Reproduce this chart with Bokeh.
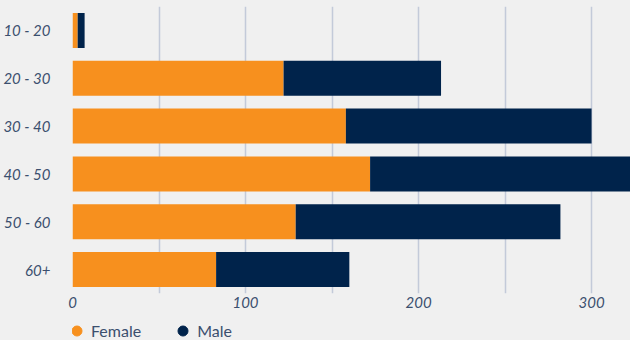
from bokeh.plotting import figure
from bokeh.layouts import column
from bokeh.models import (ColumnDataSource, FactorRange, Range1d, FixedTicker,
                          Legend, LegendItem)
from bokeh.embed import file_html
from bokeh.resources import INLINE

categories = ["10 - 20", "20 - 30", "30 - 40", "40 - 50", "50 - 60", "60+"]
female = [3, 122, 158, 172, 129, 83]
male = [4, 91, 142, 165, 153, 77]
series = ["Female", "Male"]
x_ticks = [0, 100, 200, 300]
grid_ticks = [0, 50, 100, 150, 200, 250, 300]

ORANGE = "#f7901e"
NAVY = "#00234b"
TEXT = "#3b4f6e"
GRID = "#c3cad9"
BG = "#f0f0f0"

src = ColumnDataSource(dict(cat=categories, Female=female, Male=male))

p = figure(width=630, height=318, output_backend="svg", toolbar_location=None,
           y_range=FactorRange(factors=categories[::-1], range_padding=0),
           x_range=Range1d(0, 322.5),
           min_border_left=72, min_border_right=0, min_border_top=6,
           min_border_bottom=25)
p.background_fill_color = BG
p.border_fill_color = BG
p.outline_line_color = None

rs = p.hbar_stack(series, y="cat", height=0.73, color=[ORANGE, NAVY],
                  line_color=None, source=src)

p.ygrid.grid_line_color = None
p.xgrid.ticker = FixedTicker(ticks=grid_ticks)
p.xgrid.grid_line_color = GRID
p.xgrid.grid_line_width = 1.5

p.xaxis.ticker = FixedTicker(ticks=x_ticks)
for ax in (p.xaxis[0], p.yaxis[0]):
    ax.axis_line_color = None
    ax.major_tick_line_color = None
    ax.minor_tick_line_color = None
    ax.major_tick_out = 0
    ax.major_label_text_font = "Lato"
    ax.major_label_text_font_style = "italic"
    ax.major_label_text_font_size = "15px"
    ax.major_label_text_color = TEXT
p.xaxis.major_label_standoff = 3
p.yaxis.major_label_standoff = 22

# legend strip: marker renderers fall outside its visible range, only the legend shows
lg = figure(width=630, height=22, output_backend="svg", toolbar_location=None,
            x_range=Range1d(0, 1), y_range=FactorRange(factors=categories),
            min_border=0)
lg.axis.visible = False
lg.grid.visible = False
lg.outline_line_color = None
lg.background_fill_color = BG
lg.border_fill_color = BG
d1 = lg.scatter(x="Female", y="cat", source=src, marker="circle", size=12,
                color=ORANGE)
d2 = lg.scatter(x="Male", y="cat", source=src, marker="circle", size=12,
                color=NAVY)
legend = Legend(items=[LegendItem(label=series[0], renderers=[d1]),
                       LegendItem(label=series[1], renderers=[d2])],
                orientation="horizontal", location=(-8, -3),
                background_fill_alpha=0, border_line_color=None,
                label_text_font="Lato", label_text_font_size="16px",
                label_text_color=TEXT, glyph_width=25, glyph_height=25,
                label_height=14,
                spacing=29, padding=0, margin=0, label_standoff=2)
lg.add_layout(legend, "center")

layout = column(p, lg, spacing=0)
layout.styles = {"background-color": BG}
open("out.html", "w").write(file_html(layout, INLINE))
